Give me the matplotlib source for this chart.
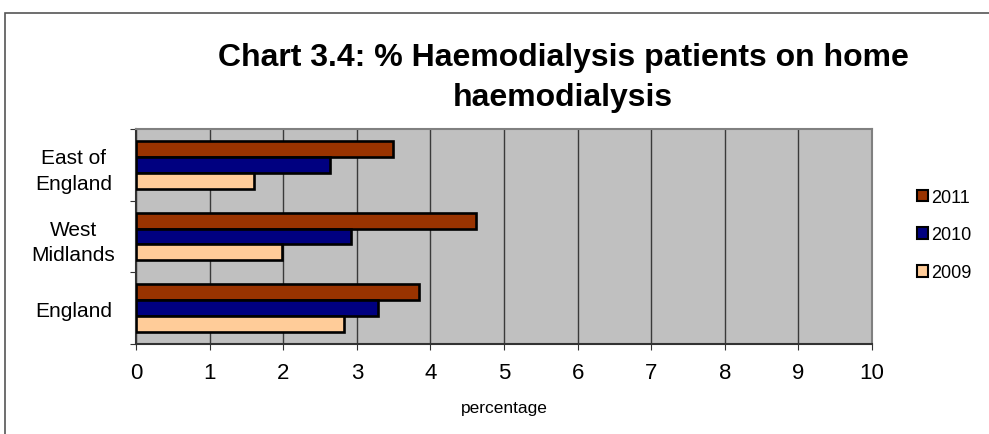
import matplotlib
matplotlib.use("Agg")
import matplotlib.pyplot as plt
from matplotlib.patches import Rectangle, Patch
import numpy as np

plt.rcParams['font.family'] = ['Liberation Sans', 'DejaVu Sans']

categories = ["England", "West\nMidlands", "East of\nEngland"]  # bottom to top
years = ["2011", "2010", "2009"]
values = {
    "2011": [3.85, 4.62, 3.49],
    "2010": [3.29, 2.92, 2.64],
    "2009": [2.83, 1.99, 1.60],
}
colors = {"2011": "#993300", "2010": "#000080", "2009": "#FFCC99"}
xticks = list(range(0, 11))

fig = plt.figure(figsize=(9.89, 4.35), dpi=100)
fig.patch.set_facecolor("white")
# outer chart frame
fig.add_artist(Rectangle((5/989, -0.1), 1.2, 1 - 14/435 + 0.1, transform=fig.transFigure,
                         fill=False, edgecolor="#555555", linewidth=1.2))

ax = fig.add_axes([136/989, 1 - 345/435, (872 - 136)/989, (345 - 130)/435])
ax.set_facecolor("#C0C0C0")

h = 0.223
offsets = {"2011": h, "2010": 0.0, "2009": -h}
y = np.arange(len(categories))
for yr in years:
    ax.barh(y + offsets[yr], values[yr], height=h, color=colors[yr],
            edgecolor="black", linewidth=1.9, zorder=3)

ax.set_xlim(0, 10)
ax.set_ylim(-0.5, len(categories) - 0.5)
ax.set_xticks(xticks)
ax.set_xticklabels([str(t) for t in xticks], fontsize=16)
ax.xaxis.grid(True, color="#3a3a3a", linewidth=1.0, zorder=1)
ax.set_axisbelow(True)

ax.set_yticks(np.arange(-0.5, len(categories), 1.0))
ax.set_yticklabels([])
ax.set_yticks(y, minor=True)
ax.set_yticklabels(categories, minor=True, fontsize=15, ha="center", linespacing=1.45)
ax.tick_params(axis="y", which="minor", length=0, pad=45)
ax.tick_params(axis="y", which="major", length=4, direction="out", color="#333333")
ax.tick_params(axis="x", length=4, direction="out", color="#333333", pad=9)

for s in ax.spines.values():
    s.set_color("#808080")
    s.set_linewidth(1.5)
ax.spines["left"].set_color("#333333")
ax.spines["bottom"].set_color("#333333")

ax.set_xlabel("percentage", fontsize=12.5, labelpad=12)

fig.text(563/989, 1 - 78/435, "Chart 3.4: % Haemodialysis patients on home\nhaemodialysis",
         ha="center", va="center", fontsize=23, fontweight="bold", linespacing=1.42)

handles = [Patch(facecolor=colors[yr], edgecolor="black", linewidth=1.5, label=yr) for yr in years]
leg = fig.legend(handles=handles, loc="center left", bbox_to_anchor=(917/989, 1 - 236/435),
                 frameon=False, fontsize=13, handlelength=0.62, handleheight=0.62,
                 handletextpad=0.15, labelspacing=1.15, borderpad=0, borderaxespad=0)

fig.savefig("out.png", dpi=100, facecolor="white")
